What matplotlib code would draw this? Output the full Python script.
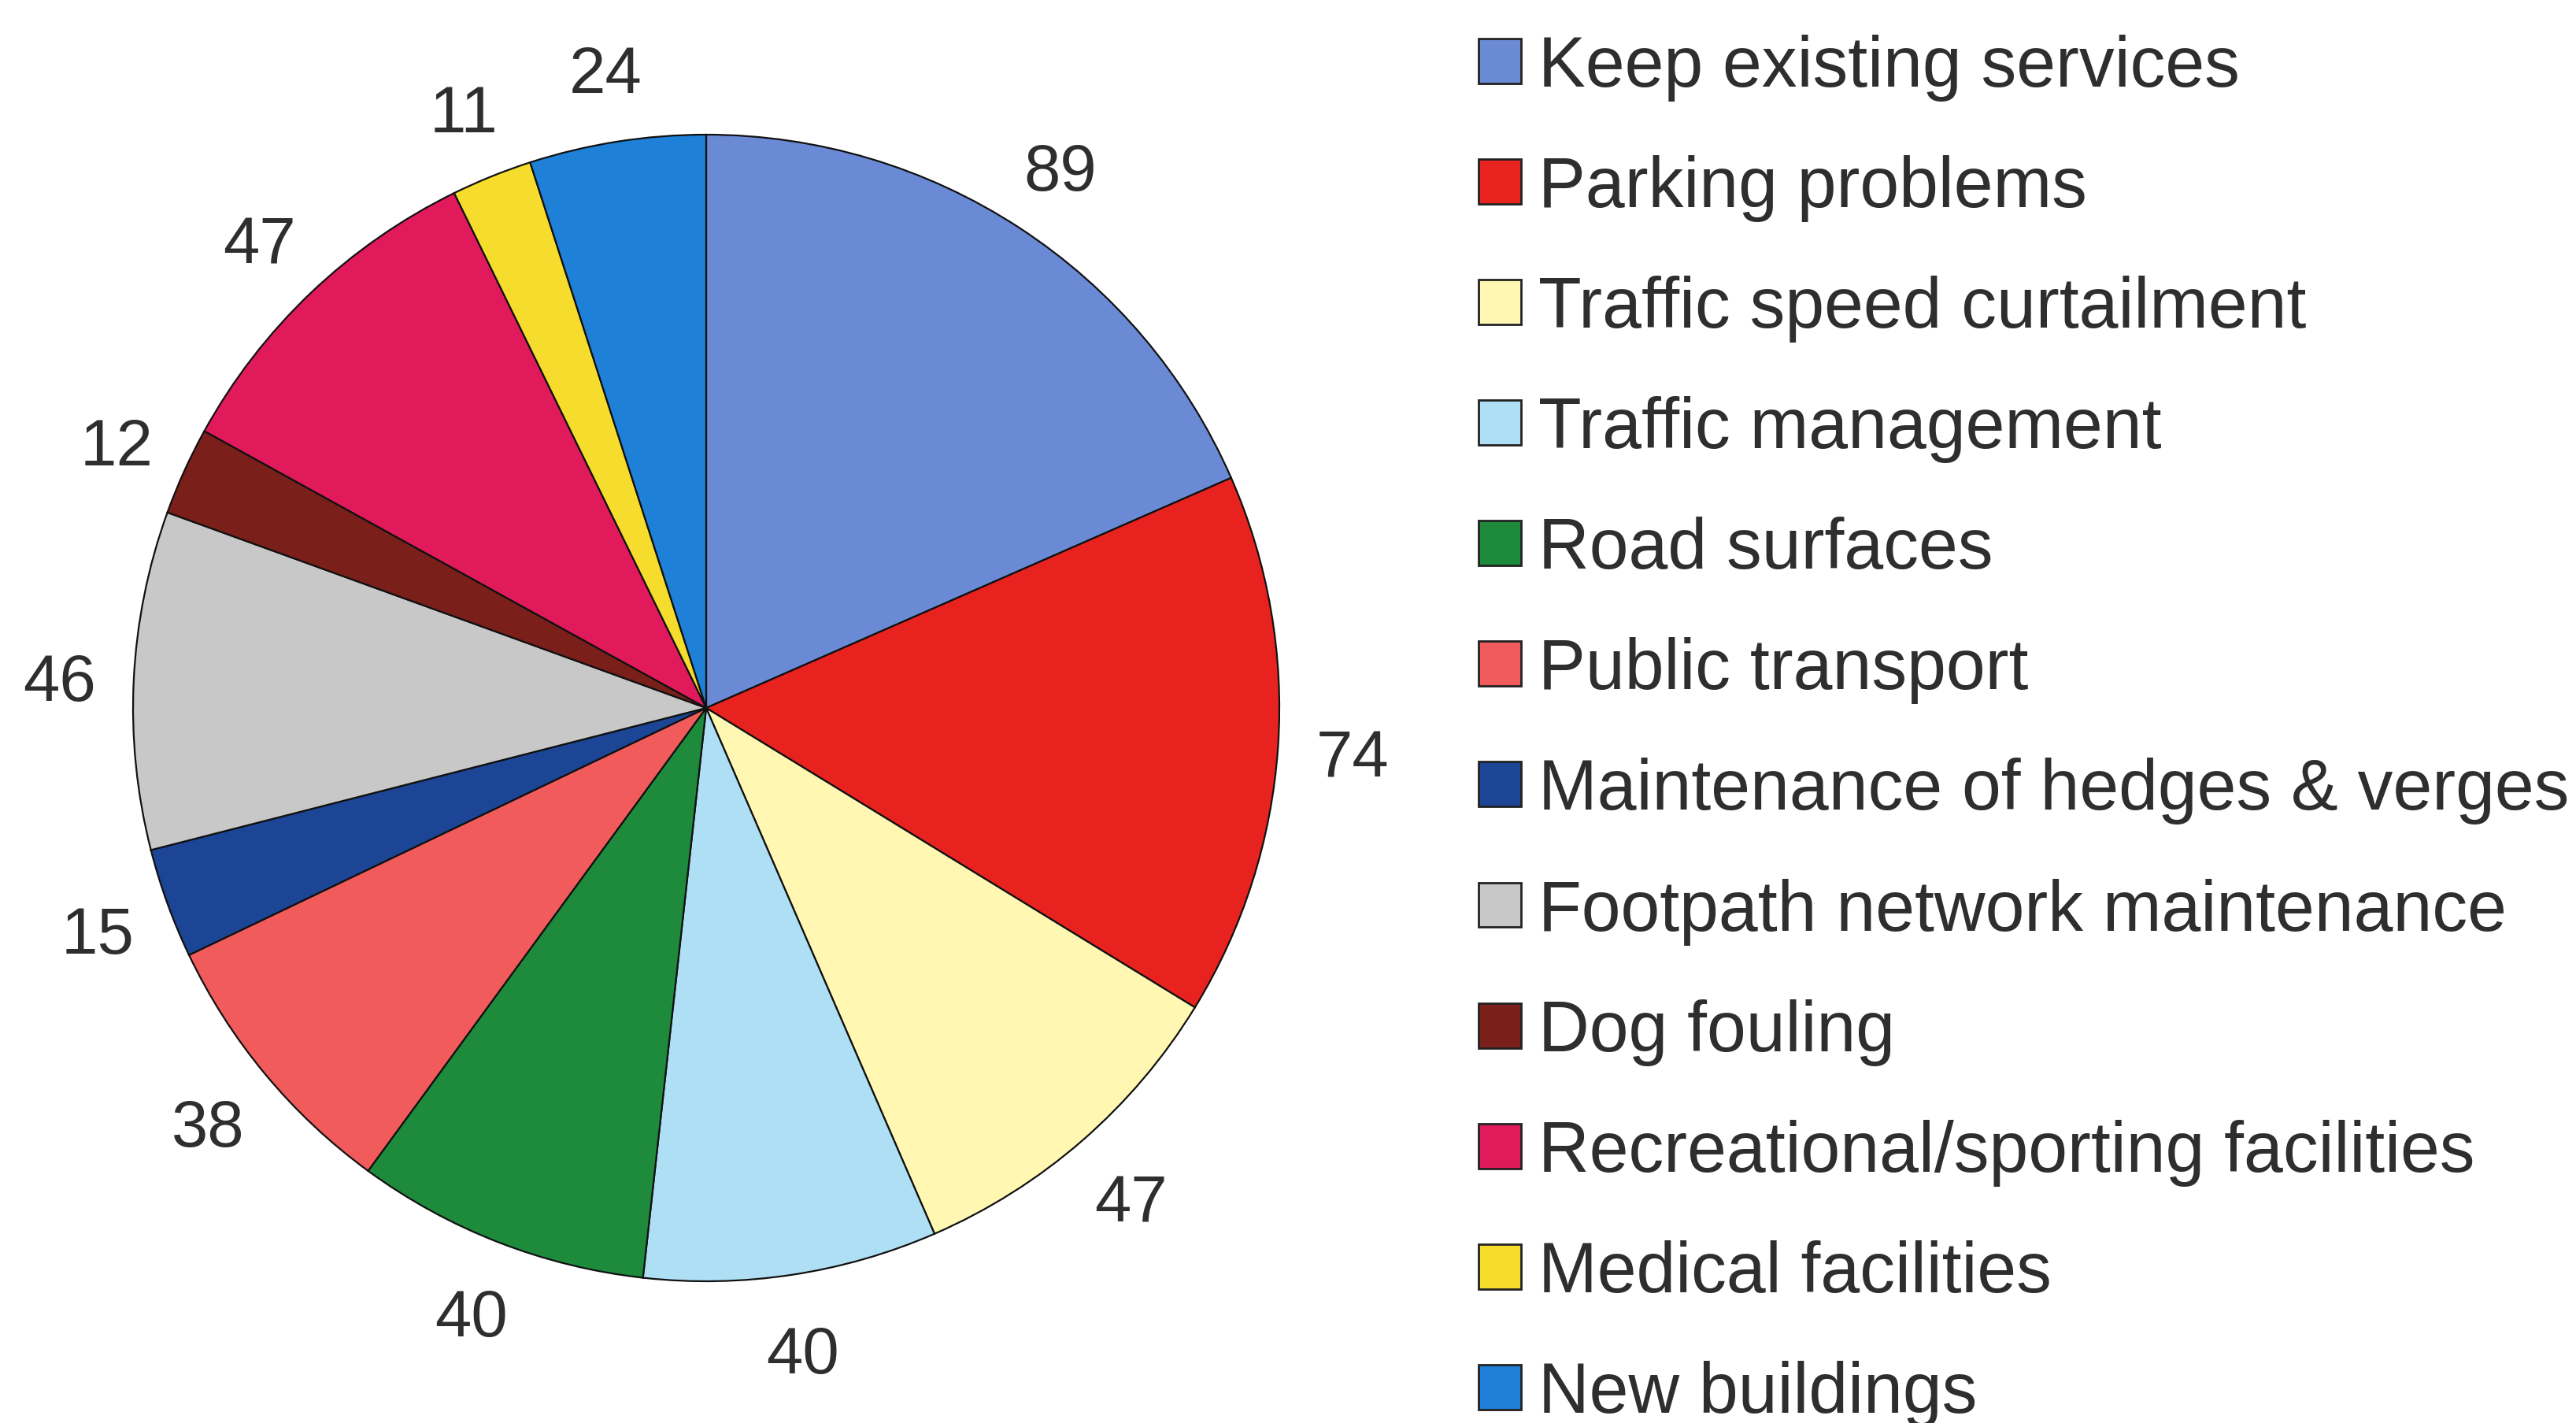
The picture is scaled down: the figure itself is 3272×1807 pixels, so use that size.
import matplotlib
matplotlib.use("Agg")
import matplotlib.pyplot as plt
from matplotlib.patches import Patch

plt.rcParams['font.family'] = ['Liberation Sans', 'DejaVu Sans']

categories = ["Keep existing services", "Parking problems", "Traffic speed curtailment",
              "Traffic management", "Road surfaces", "Public transport",
              "Maintenance of hedges & verges", "Footpath network maintenance",
              "Dog fouling", "Recreational/sporting facilities", "Medical facilities",
              "New buildings"]
values = [89, 74, 47, 40, 40, 38, 15, 46, 12, 47, 11, 24]
colors = ["#6B8AD6", "#E8231F", "#FFF7B2", "#AEDFF5", "#1E8A3C", "#F25B5B",
          "#1C4595", "#C8C8C8", "#7A1F1A", "#E01A5B", "#F6DC2C", "#1F80D8"]

text_col = "#2E2E2E"

fig = plt.figure(figsize=(32.72, 18.08), dpi=100)
fig.patch.set_facecolor("white")

# square axes holding the pie, in pixels: centre (897, 900), radius ~728
W, H = 3272, 1808
r_px = 728
ax = fig.add_axes([(897 - r_px) / W, (H - 900 - r_px) / H, 2 * r_px / W, 2 * r_px / H])
wedges, texts = ax.pie(values, colors=colors, startangle=90, counterclock=False,
                       labels=[str(v) for v in values], labeldistance=1.13,
                       wedgeprops=dict(edgecolor="#111111", linewidth=1.6),
                       textprops=dict(fontsize=60, color=text_col))
ax.set_xlim(-1, 1)
ax.set_ylim(-1, 1)
ax.set_aspect("equal")
ax.axis("off")
for t in texts:
    t.set_clip_on(False)
    t.set_ha("center")
    t.set_va("center_baseline")

handles = [Patch(facecolor=c, edgecolor="#222222", linewidth=2) for c in colors]
fig.legend(handles, categories, loc="upper left", bbox_to_anchor=(1878 / W, 1 - 44 / H),
           frameon=False, fontsize=64.5, labelcolor=text_col,
           handlelength=0.6, handleheight=0.6, handletextpad=0.25,
           labelspacing=0.76, borderpad=0, borderaxespad=0)

fig.savefig("out.png", dpi=100, facecolor="white")
